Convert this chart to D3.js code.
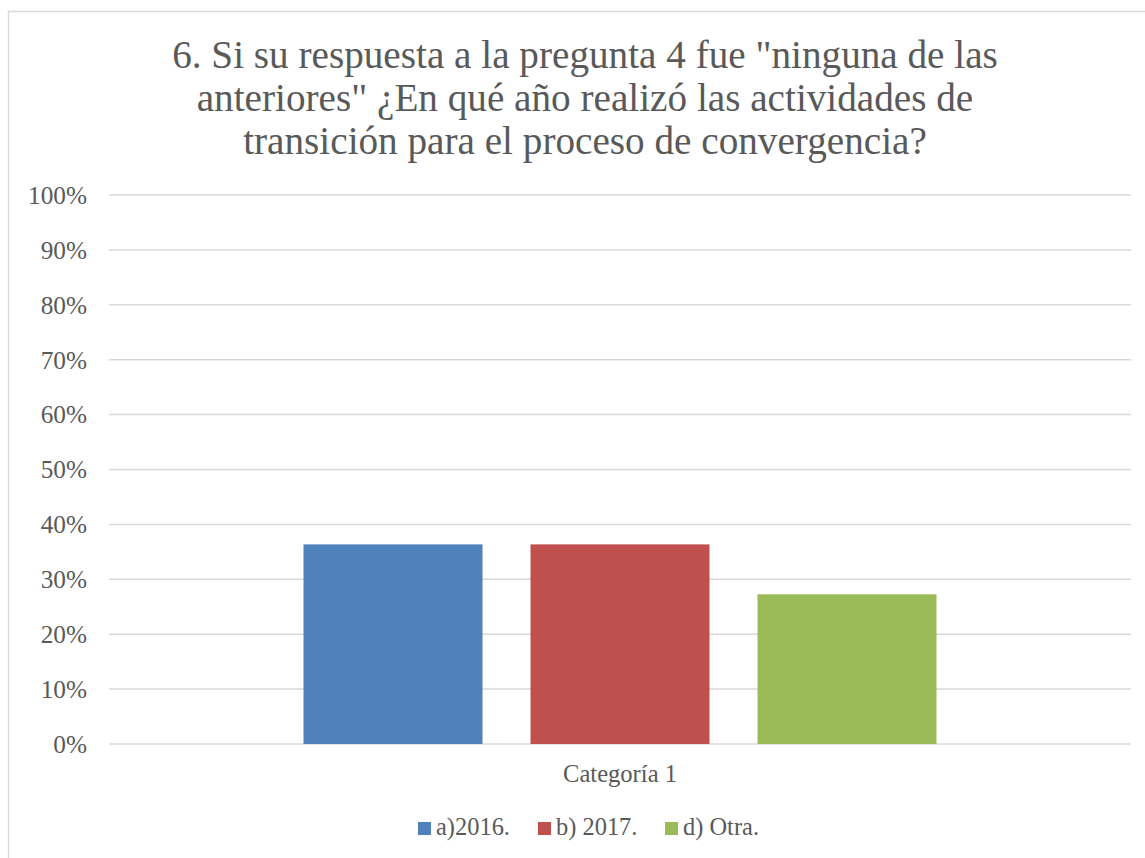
<!DOCTYPE html>
<html>
<head>
<meta charset="utf-8">
<script src="https://cdn.jsdelivr.net/npm/d3@7"></script>
<style>
  html, body { margin: 0; padding: 0; background: #fff; }
  svg text { font-family: "Liberation Serif", "DejaVu Serif", serif; fill: #595959; }
</style>
</head>
<body>
<div id="chart"></div>
<script>
// data
const titleLines = [
  '6. Si su respuesta a la pregunta 4 fue "ninguna de las',
  'anteriores" ¿En qué año realizó las actividades de',
  'transición para el proceso de convergencia?'
];
const categories = ['Categoría 1'];
const seriesNames = ['a)2016.', 'b) 2017.', 'd) Otra.'];
const seriesValues = [0.3636, 0.3636, 0.2727];
const seriesColors = ['#4F81BD', '#C0504D', '#9BBB59'];
const yTicks = [0, 0.1, 0.2, 0.3, 0.4, 0.5, 0.6, 0.7, 0.8, 0.9, 1];

(function () {
  const width = 1145;
  const height = 858;
  const plot = { left: 109, right: 1131, top: 195, bottom: 744 };

  const svg = d3.select('#chart')
    .append('svg')
    .attr('width', width)
    .attr('height', height);

  // scale a text selection's font so the given node hits the target width
  // (Cambria isn't installed, so match the widths of the original instead)
  function fitFont(sel, refNode, target, base) {
    const w = refNode.getComputedTextLength();
    sel.attr('font-size', base * target / w);
  }

  // chart area border
  svg.append('rect')
    .attr('x', 8.5)
    .attr('y', 11.5)
    .attr('width', 1150)
    .attr('height', 860)
    .attr('fill', '#fff')
    .attr('stroke', '#d9d9d9')
    .attr('stroke-width', 1.5);

  // title
  const title = svg.append('g')
    .selectAll('text')
    .data(titleLines)
    .enter()
    .append('text')
    .attr('x', 585)
    .attr('y', (d, i) => 68 + i * 43)
    .attr('text-anchor', 'middle')
    .attr('font-size', 36)
    .text((d) => d);
  fitFont(title, title.nodes()[0], 826, 36);

  const y = d3.scaleLinear()
    .domain([0, 1])
    .range([plot.bottom, plot.top]);

  const x0 = d3.scaleBand()
    .domain(categories)
    .range([plot.left, plot.right]);

  // gridlines
  svg.append('g')
    .selectAll('line')
    .data(yTicks)
    .enter()
    .append('line')
    .attr('x1', plot.left)
    .attr('x2', plot.right)
    .attr('y1', (d) => y(d))
    .attr('y2', (d) => y(d))
    .attr('stroke', '#d9d9d9')
    .attr('stroke-width', 1.5);

  // y labels
  const fmt = d3.format('.0%');
  const yLabels = svg.append('g')
    .selectAll('text')
    .data(yTicks)
    .enter()
    .append('text')
    .attr('x', 87)
    .attr('y', (d) => y(d))
    .attr('dy', '0.35em')
    .attr('text-anchor', 'end')
    .attr('font-size', 22)
    .text((d) => fmt(d));
  fitFont(yLabels, yLabels.nodes()[yTicks.length - 1], 59, 22);

  // bars: 3 bars of 179 with 48 gaps, centred in the category band
  const groupWidth = 3 * 179 + 2 * 48;
  const x1 = d3.scaleBand()
    .domain(seriesNames)
    .range([0, groupWidth])
    .paddingInner(48 / 227)
    .paddingOuter(0);
  const groupLeft = x0(categories[0]) + (x0.bandwidth() - groupWidth) / 2;

  svg.append('g')
    .selectAll('rect')
    .data(seriesNames.map((s, i) => ({ name: s, value: seriesValues[i], color: seriesColors[i] })))
    .enter()
    .append('rect')
    .attr('x', (d) => groupLeft + x1(d.name))
    .attr('y', (d) => y(d.value))
    .attr('width', x1.bandwidth())
    .attr('height', (d) => y(0) - y(d.value))
    .attr('fill', (d) => d.color);

  // category label
  const cat = svg.append('text')
    .attr('x', x0(categories[0]) + x0.bandwidth() / 2)
    .attr('y', 782)
    .attr('text-anchor', 'middle')
    .attr('font-size', 20)
    .text(categories[0]);
  fitFont(cat, cat.node(), 114, 20);

  // legend
  const legendItems = seriesNames.map((s, i) => ({ name: s, color: seriesColors[i] }));
  const legendX = [418, 538, 665];
  const item = svg.append('g')
    .selectAll('g')
    .data(legendItems)
    .enter()
    .append('g')
    .attr('transform', (d, i) => `translate(${legendX[i]}, 822)`);

  item.append('rect')
    .attr('x', 0)
    .attr('y', 0)
    .attr('width', 13)
    .attr('height', 13)
    .attr('fill', (d) => d.color);

  const legendText = item.append('text')
    .attr('x', 18)
    .attr('y', 13)
    .attr('font-size', 20)
    .text((d) => d.name);
  fitFont(legendText, legendText.nodes()[0], 74, 20);
})();
</script>
</body>
</html>
